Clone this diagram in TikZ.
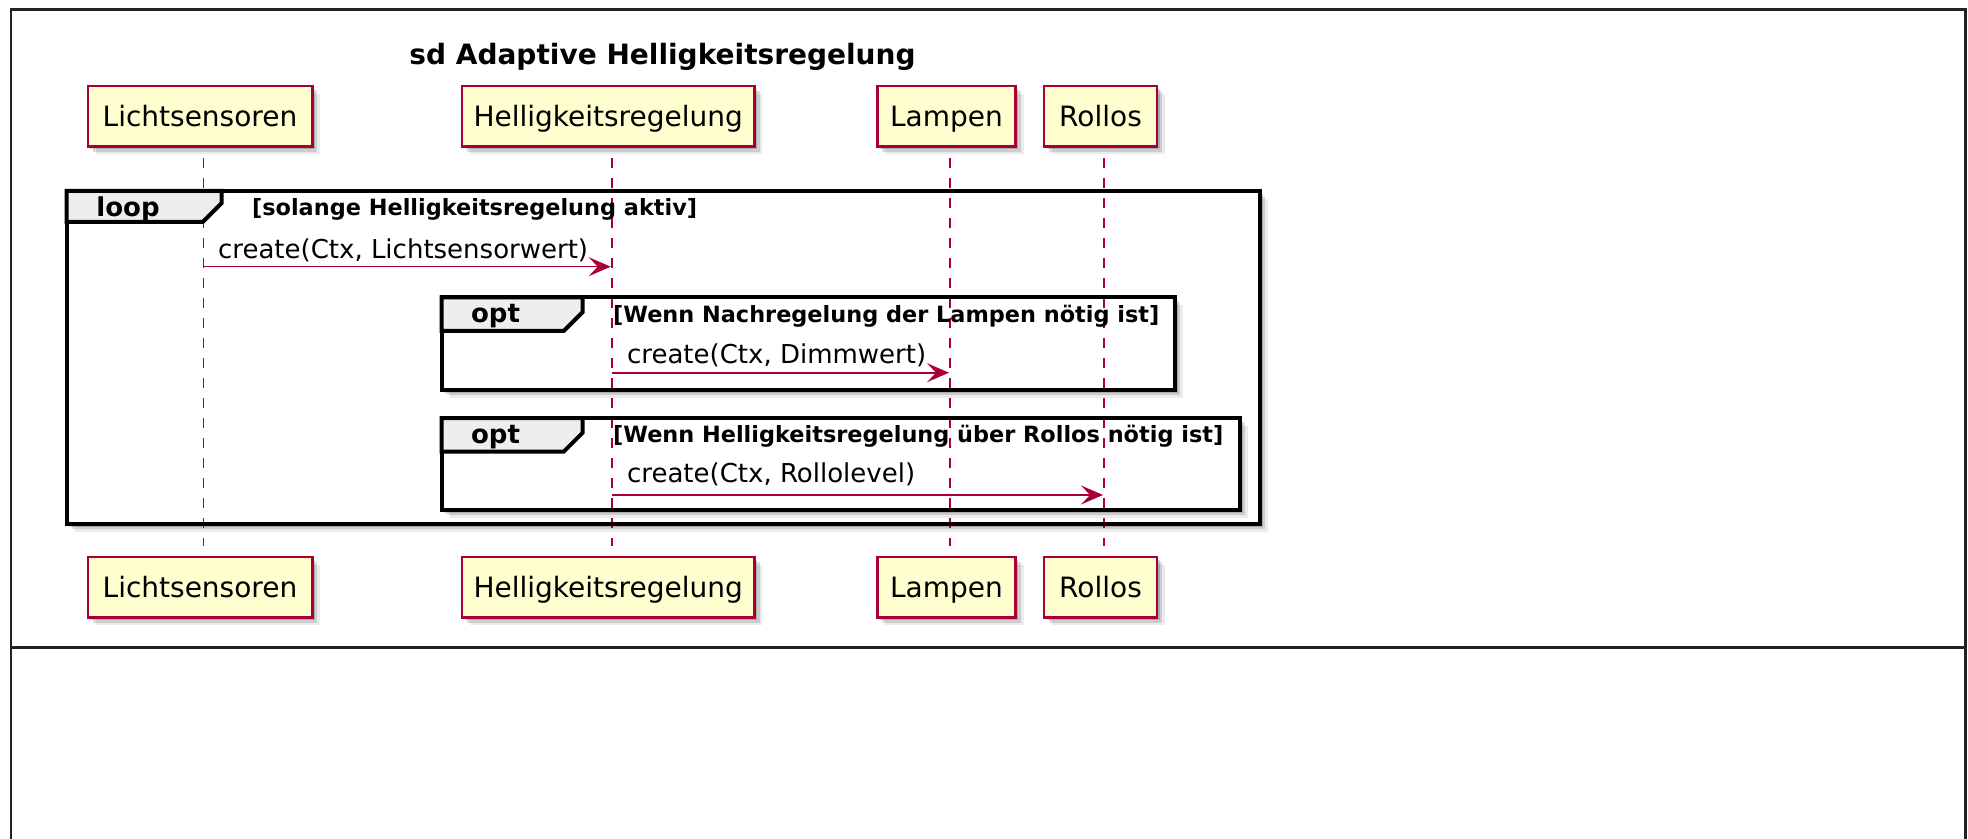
\documentclass[tikz,border=0pt]{standalone}
\usepackage{fontspec}
\setmainfont{DejaVu Sans}
\usetikzlibrary{arrows.meta,shadows}
\definecolor{pfill}{HTML}{FEFECE}
\definecolor{pline}{HTML}{A80036}
\definecolor{tabfill}{HTML}{EEEEEE}
\definecolor{outergray}{HTML}{222222}
\tikzset{
  soft shadow/.style={
    drop shadow={shadow xshift=1.3pt,shadow yshift=-1.3pt,opacity=.16,fill=black},
    drop shadow={shadow xshift=2.6pt,shadow yshift=-2.6pt,opacity=.13,fill=black},
    drop shadow={shadow xshift=3.9pt,shadow yshift=-3.9pt,opacity=.08,fill=black}},
  participant/.style={rectangle, draw=pline, fill=pfill, line width=1.3pt,
    minimum height=30.35pt, inner sep=0pt, text height=10.2pt, text depth=0pt,
    font=\fontsize{14pt}{16pt}\selectfont, soft shadow},
  lifeline/.style={draw=pline, line width=0.8pt, dash pattern=on 5pt off 5pt},
  msg/.style={draw=pline, line width=0.8pt, shorten >=0.5pt,
    -{Stealth[length=11pt,width=9.5pt,inset=4.5pt,fill=pline]}},
  msglabel/.style={anchor=base west, inner sep=0pt, font=\fontsize{13pt}{15pt}\selectfont},
  guard/.style={anchor=base west, inner sep=0pt, font=\fontsize{11.2pt}{13pt}\selectfont\bfseries},
  kw/.style={anchor=base, inner sep=0pt, font=\fontsize{13pt}{15pt}\selectfont\bfseries},
  frameback/.style={fill=white, soft shadow},
  framestroke/.style={draw=black, line width=2pt},
  tabshape/.style={draw=black, line width=2pt, fill=tabfill, line join=miter},
  outer/.style={draw=outergray, line width=1.3pt},
}
\begin{document}
\begin{tikzpicture}[x=0.5pt,y=-0.5pt]
\useasboundingbox (0,0) rectangle (1968,839);

% outer table frame
\draw[outer] (11,839) -- (11,9.3) -- (1965.7,9.3) -- (1965.7,839);
\draw[outer] (11,647.7) -- (1965.7,647.7);

% title
\node[anchor=base, inner sep=0pt, font=\fontsize{14pt}{16pt}\selectfont\bfseries] (title) at (662.5,65) {sd Adaptive Helligkeitsregelung};

% participants
\node[participant, minimum width=112.2pt] (L1) at (200,116.35) {Lichtsensoren};
\node[participant, minimum width=146.2pt] (H1) at (608.2,116.35) {Helligkeitsregelung};
\node[participant, minimum width=69.25pt] (A1) at (946.5,116.35) {Lampen};
\node[participant, minimum width=56.5pt] (R1) at (1100.5,116.35) {Rollos};
\node[participant, minimum width=112.2pt] (L2) at (200,587.3) {Lichtsensoren};
\node[participant, minimum width=146.2pt] (H2) at (608.2,587.3) {Helligkeitsregelung};
\node[participant, minimum width=69.25pt] (A2) at (946.5,587.3) {Lampen};
\node[participant, minimum width=56.5pt] (R2) at (1100.5,587.3) {Rollos};

% frame backgrounds
\path[frameback] (66.7,191) rectangle (1260,524);
\path[frameback] (441.7,297.3) rectangle (1175,390);
\path[frameback] (441.7,418) rectangle (1240,510);

% lifelines
\foreach \p in {L,H,A,R}{
  \draw[lifeline] ([xshift=1.75pt,yshift=-5pt]\p1.south) -- ([xshift=1.75pt,yshift=5pt]\p2.north);
}
\coordinate (xL) at ([xshift=1.75pt]L1.south);
\coordinate (xH) at ([xshift=1.75pt]H1.south);
\coordinate (xA) at ([xshift=1.75pt]A1.south);
\coordinate (xR) at ([xshift=1.75pt]R1.south);

% frame strokes and tabs
\draw[framestroke] (66.7,191) rectangle (1260,524);
\draw[framestroke] (441.7,297.3) rectangle (1175,390);
\draw[framestroke] (441.7,418) rectangle (1240,510);
\draw[tabshape] (66.7,191) -- (221.7,191) -- (221.7,203) -- (202.7,222) -- (66.7,222) -- cycle;
\draw[tabshape] (441.7,297.3) -- (582.7,297.3) -- (582.7,312) -- (563.7,331) -- (441.7,331) -- cycle;
\draw[tabshape] (441.7,418) -- (582.7,418) -- (582.7,432.7) -- (563.7,451.7) -- (441.7,451.7) -- cycle;

\node[kw] (kloop) at (128,216.7) {loop};
\node[kw] (kopt1) at (495.5,322.7) {opt};
\node[kw] (kopt2) at (495.5,443.3) {opt};
\node[guard] (g0) at (251.7,215.7) {[solange Helligkeitsregelung aktiv]};
\node[guard] (g1) at (612.7,322.7) {[Wenn Nachregelung der Lampen nötig ist]};
\node[guard] (g2) at (612.7,442.7) {[Wenn Helligkeitsregelung über Rollos nötig ist]};

% messages
\path (xL |- 0,266.7) coordinate (m1s) (xH |- 0,266.7) coordinate (m1e);
\path (xH |- 0,372.7) coordinate (m2s) (xA |- 0,372.7) coordinate (m2e);
\path (xH |- 0,495) coordinate (m3s) (xR |- 0,495) coordinate (m3e);
\draw[msg] (m1s) -- (m1e);
\draw[msg] (m2s) -- (m2e);
\draw[msg] (m3s) -- (m3e);
\node[msglabel] (t1) at (217.7,258.3) {create(Ctx, Lichtsensorwert)};
\node[msglabel] (t2) at (626.7,363.3) {create(Ctx, Dimmwert)};
\node[msglabel] (t3) at (626.7,482.7) {create(Ctx, Rollolevel)};
\end{tikzpicture}
\end{document}
